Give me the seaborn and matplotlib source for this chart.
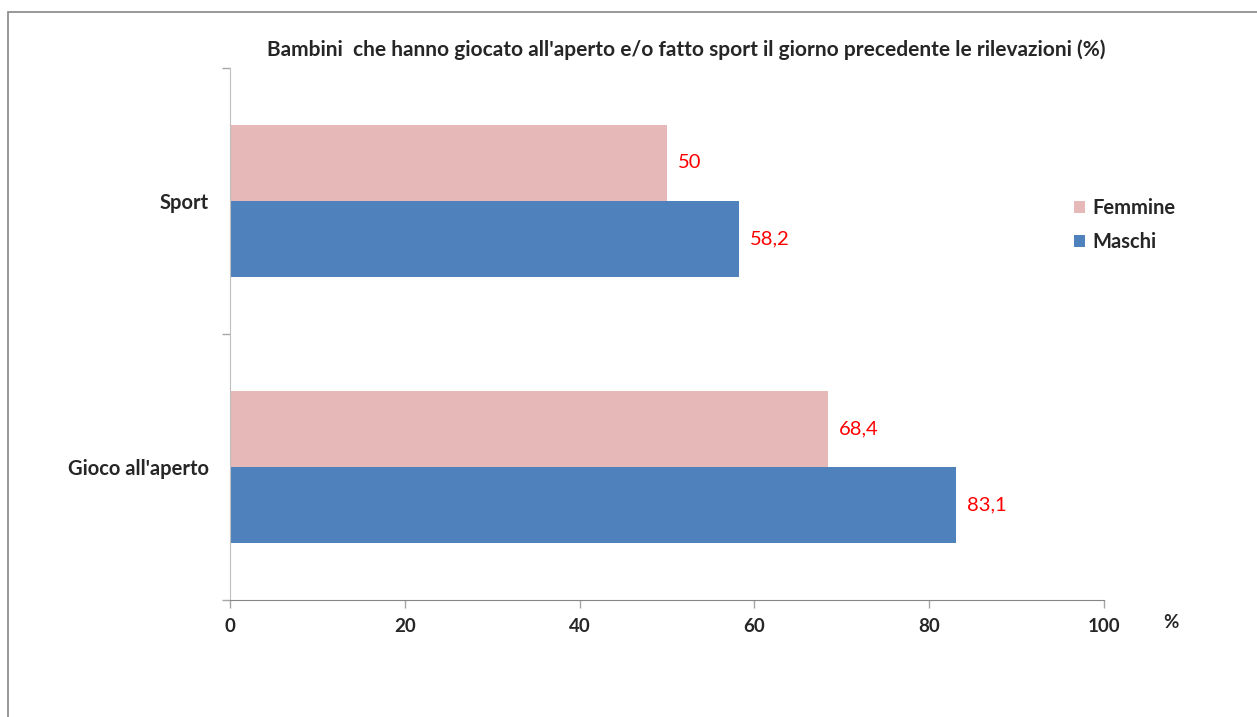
import matplotlib
matplotlib.use("Agg")
import matplotlib.pyplot as plt
import seaborn as sns
import pandas as pd
from matplotlib.patches import Rectangle

categories = ["Sport", "Gioco all'aperto"]
femmine = [50.0, 68.4]
maschi = [58.2, 83.1]
series_names = ["Femmine", "Maschi"]
x_ticks = [0, 20, 40, 60, 80, 100]
title = "Bambini  che hanno giocato all'aperto e/o fatto sport il giorno precedente le rilevazioni (%)"

sns.set_style("white")
plt.rcParams['font.family'] = ['Lato', 'DejaVu Sans']

df = pd.DataFrame({
    "cat": categories * 2,
    "val": femmine + maschi,
    "sex": [series_names[0]] * len(categories) + [series_names[1]] * len(categories),
})

fig = plt.figure(figsize=(12.57, 7.17), dpi=100)
ax = fig.add_axes([230/1257, 1 - 600/717, (1104-230)/1257, (600-68)/717])

sns.barplot(data=df, x="val", y="cat", hue="sex", order=categories,
            hue_order=series_names, palette=["#E6B9B8", "#4F81BD"],
            orient="h", width=0.574, saturation=1, ax=ax, legend=True,
            linewidth=0)

ax.set_xlim(0, 100)
ax.set_ylim(1.5, -0.5)
ax.set_xticks(x_ticks)
ax.set_xticklabels([str(t) for t in x_ticks], fontsize=13.5, fontweight="bold")
ax.set_yticks([-0.5, 0.5, 1.5], minor=False)
ax.set_yticklabels(["", "", ""])
ax.set_yticks([0, 1], minor=True)
ax.set_yticklabels(categories, minor=True, fontsize=14.5, fontweight="bold")
ax.tick_params(axis="y", which="minor", left=False, length=0, pad=15)
ax.tick_params(axis="y", which="major", left=True, length=6, color="#A6A6A6",
               direction="out", width=1)
ax.tick_params(axis="x", bottom=True, length=6, color="#A6A6A6", direction="out",
               width=1, pad=7)
ax.set_xlabel("")
ax.set_ylabel("")

for s in ["top", "right"]:
    ax.spines[s].set_visible(False)
ax.spines["left"].set_color("#BFBFBF")
ax.spines["bottom"].set_color("#868686")

for cont in ax.containers:
    labels = [f"{v:g}".replace(".", ",") for v in cont.datavalues]
    ax.bar_label(cont, labels=labels, padding=8, color="red", fontsize=14.5)

leg = ax.legend(loc="upper left", bbox_to_anchor=(1064/1257, 1 - 188/717),
                bbox_transform=fig.transFigure, frameon=False,
                prop={"weight": "bold", "size": 14.5}, handlelength=0.55,
                handleheight=0.55, handletextpad=0.35, labelspacing=0.7,
                borderpad=0)

fig.text(686/1257, 1 - 50/717, title, ha="center", va="center",
         fontsize=15, fontweight="bold")
fig.text(1171/1257, 1 - 622/717, "%", ha="center", va="center",
         fontsize=13.5, fontweight="bold")

fig.patches.append(Rectangle((8/1257, -0.1), 1.2, 1 - 12/717 + 0.1,
                             transform=fig.transFigure, fill=False,
                             edgecolor="#868686", linewidth=1.2))

fig.savefig("out.png", dpi=100)
